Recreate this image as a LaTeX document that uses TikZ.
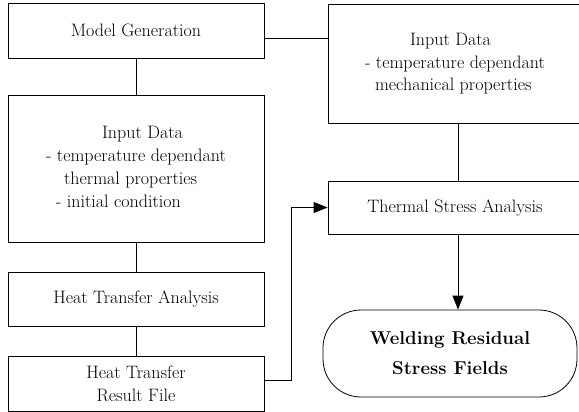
\documentclass[tikz,border=0pt]{standalone}
\usetikzlibrary{arrows.meta}
\begin{document}
\begin{tikzpicture}[x=1pt,y=-1pt,
  box/.style={draw,line width=0.8pt,inner sep=0pt,font=\fontsize{18}{22.8}\selectfont},
  term/.style={draw,line width=0.8pt,rounded corners=38pt,inner sep=0pt,align=center,font=\fontsize{18.6}{30}\selectfont\bfseries},
  link/.style={line width=0.8pt},
  arr/.style={line width=0.8pt,-{Triangle[length=14pt,width=11pt]}}]
\useasboundingbox (0,0) rectangle (579,412);
\node[box,minimum width=256pt,minimum height=55pt] (mg) at (136,30.5) {Model Generation};
\node[box,minimum width=256pt,minimum height=147pt] (idl) at (136,168.5)
  {\begin{tabular}{@{}l@{}}\hspace{56pt}Input Data\\- temperature dependant\\\hspace{18pt}thermal properties\\\hspace{10pt}- initial condition\end{tabular}};
\node[box,minimum width=256pt,minimum height=54pt] (hta) at (136,299) {Heat Transfer Analysis};
\node[box,minimum width=256pt,minimum height=55pt,align=center] (htr) at (136,383.5) {Heat Transfer\\Result File};
\node[box,minimum width=254pt,minimum height=119pt] (idr) at (455,63.5)
  {\begin{tabular}{@{}l@{}}\hspace{45pt}Input Data\\- temperature dependant\\\hspace{10pt}mechanical properties\end{tabular}};
\node[box,minimum width=254pt,minimum height=53pt] (tsa) at (455,207.5) {Thermal Stress Analysis};
\node[term,minimum width=254pt,minimum height=87pt] (wr) at (450,353.5) {Welding Residual\\Stress Fields};
\coordinate (hout) at ([yshift=3.5pt]htr.east);
\coordinate (mout) at ([yshift=-8pt]mg.east);
\coordinate (bend) at (291,387);
\draw[link] (mout) -- (mout -| idr.west);
\draw[link] (mg.south) -- (idl.north);
\draw[link] (idl.south) -- (hta.north);
\draw[link] (hta.south) -- (htr.north);
\draw[link] ([xshift=3pt]idr.south) -- ([xshift=3pt]idr.south |- tsa.north);
\draw[arr] (hout) -- (bend |- hout) -- (bend |- tsa.west) -- (tsa.west);
\draw[arr] ([xshift=3pt]tsa.south) -- ([xshift=3pt]tsa.south |- wr.north);
\end{tikzpicture}
\end{document}
